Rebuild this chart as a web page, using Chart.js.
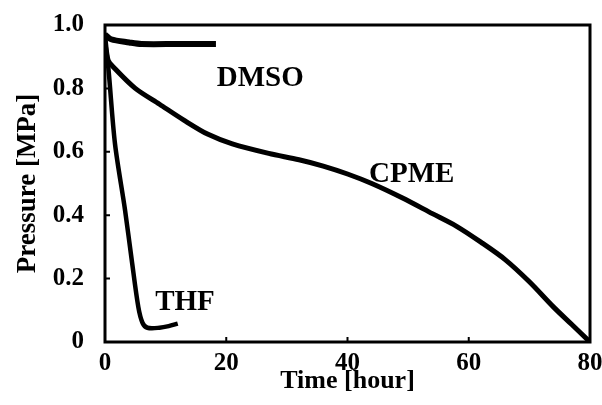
<!DOCTYPE html>
<html>
<head>
<meta charset="utf-8">
<script src="https://cdn.jsdelivr.net/npm/chart.js@4/dist/chart.umd.min.js"></script>
<style>
  html, body { margin: 0; padding: 0; background: #fff; }
  #wrap { width: 602px; height: 405px; position: relative; }
</style>
</head>
<body>
<div id="wrap"><canvas id="chart"></canvas></div>
<script>
// ---------------------------------------------------------------------------
// Data
// ---------------------------------------------------------------------------
const dmsoTime     = [0, 1, 4, 6, 12, 18.3];
const dmsoPressure = [0.97, 0.955, 0.945, 0.94, 0.94, 0.94];

const cpmeTime     = [0, 0.5, 1.5, 5, 9, 13, 17, 21, 27, 32, 36, 40, 44, 49, 54, 58, 62, 66, 70, 74, 77, 80];
const cpmePressure = [0.96, 0.89, 0.865, 0.80, 0.75, 0.70, 0.655, 0.625, 0.595, 0.575, 0.555, 0.53, 0.50, 0.455, 0.405, 0.365, 0.315, 0.26, 0.19, 0.11, 0.055, 0.0];

const thfTime      = [0, 0.55, 1.65, 3.3, 4.4, 5.5, 6.2, 7, 9, 10.5, 12];
const thfPressure  = [0.95, 0.865, 0.625, 0.417, 0.26, 0.11, 0.06, 0.045, 0.045, 0.05, 0.058];

const xTicks = [0, 20, 40, 60, 80];
const yTicks = [0, 0.2, 0.4, 0.6, 0.8, 1.0];

// curve labels, placed in data coordinates
const curveLabels = ['DMSO', 'CPME', 'THF'];
const curveLabelX = [25.6, 50.6, 13.2];
const curveLabelY = [0.83, 0.527, 0.123];

const FONT = "'Liberation Serif', 'Times New Roman', serif";

const toPoints = (xs, ys) => xs.map((x, i) => ({ x, y: ys[i] }));

// ---------------------------------------------------------------------------
// Frame, inward ticks and curve labels
// ---------------------------------------------------------------------------
const framePlugin = {
  id: 'frame',
  afterDatasetsDraw(chart) {
    const { ctx, chartArea: a, scales } = chart;
    ctx.save();
    ctx.strokeStyle = '#000';
    ctx.lineWidth = 3;
    ctx.strokeRect(a.left, a.top, a.right - a.left, a.bottom - a.top);

    ctx.lineWidth = 2;
    ctx.beginPath();
    xTicks.slice(1, -1).forEach(v => {
      const px = scales.x.getPixelForValue(v);
      ctx.moveTo(px, a.bottom);
      ctx.lineTo(px, a.bottom - 5);
    });
    yTicks.slice(1, -1).forEach(v => {
      const py = scales.y.getPixelForValue(v);
      ctx.moveTo(a.left, py);
      ctx.lineTo(a.left + 5, py);
    });
    ctx.stroke();

    ctx.fillStyle = '#000';
    ctx.font = `bold 29px ${FONT}`;
    ctx.textAlign = 'center';
    ctx.textBaseline = 'middle';
    curveLabels.forEach((txt, i) => {
      ctx.fillText(txt,
        scales.x.getPixelForValue(curveLabelX[i]),
        scales.y.getPixelForValue(curveLabelY[i]));
    });
    ctx.restore();
  }
};

// ---------------------------------------------------------------------------
// Chart
// ---------------------------------------------------------------------------
const lineStyle = {
  showLine: true,
  borderColor: '#000',
  backgroundColor: '#000',
  borderWidth: 5,
  pointRadius: 0,
  tension: 0.3,
  fill: false
};

new Chart(document.getElementById('chart'), {
  type: 'scatter',
  data: {
    datasets: [
      { label: 'DMSO', data: toPoints(dmsoTime, dmsoPressure), ...lineStyle, borderWidth: 6 },
      { label: 'CPME', data: toPoints(cpmeTime, cpmePressure), ...lineStyle },
      { label: 'THF',  data: toPoints(thfTime, thfPressure), ...lineStyle, borderWidth: 4.5 }
    ]
  },
  options: {
    responsive: true,
    maintainAspectRatio: false,
    animation: false,
    layout: { padding: { left: 0, right: 12, top: 25, bottom: 0 } },
    plugins: {
      legend: { display: false },
      tooltip: { enabled: false }
    },
    scales: {
      x: {
        type: 'linear',
        min: 0,
        max: 80,
        afterBuildTicks: s => { s.ticks = xTicks.map(value => ({ value })); },
        afterFit: s => {
          s.height = 63;
          s.paddingLeft = 0;
          s.paddingRight = 0;
        },
        grid: { display: false },
        border: { display: false },
        ticks: {
          color: '#000',
          padding: -1,
          font: { family: FONT, size: 25, weight: 'bold' }
        },
        title: {
          display: true,
          text: 'Time [hour]',
          color: '#000',
          padding: { top: 0, bottom: 8 },
          font: { family: FONT, size: 26, weight: 'bold' }
        }
      },
      y: {
        type: 'linear',
        min: 0,
        max: 1,
        afterBuildTicks: s => { s.ticks = yTicks.map(value => ({ value })); },
        afterFit: s => {
          s.width = 105;
          s.paddingTop = 0;
          s.paddingBottom = 0;
        },
        grid: { display: false },
        border: { display: false },
        ticks: {
          color: '#000',
          padding: 13,
          font: { family: FONT, size: 25, weight: 'bold' },
          callback: v => (v === 0 ? '0' : v.toFixed(1))
        },
        title: {
          display: true,
          text: 'Pressure [MPa]',
          color: '#000',
          padding: { top: 12, bottom: 0 },
          font: { family: FONT, size: 27, weight: 'bold' }
        }
      }
    }
  },
  plugins: [framePlugin]
});
</script>
</body>
</html>
